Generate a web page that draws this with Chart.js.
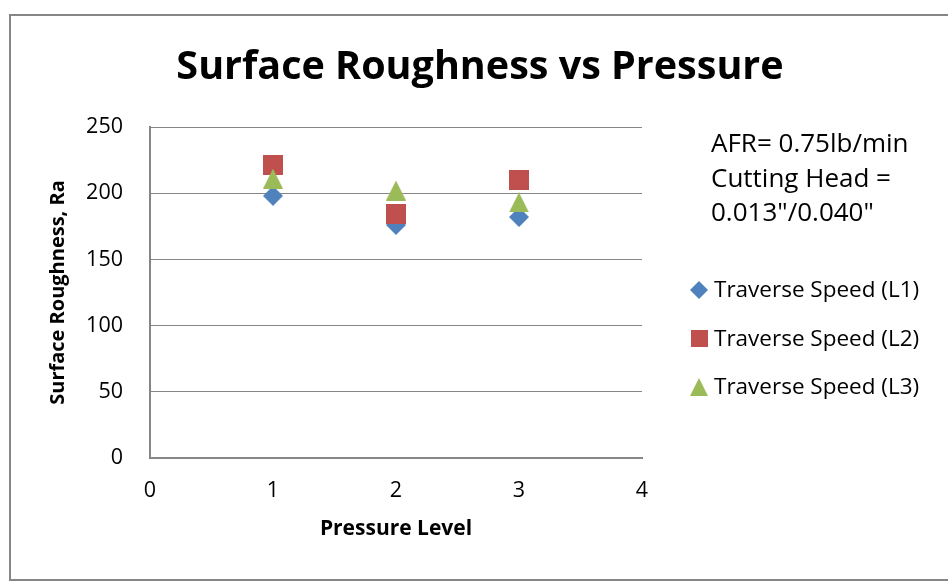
<!DOCTYPE html>
<html>
<head>
<meta charset="utf-8">
<title>Surface Roughness vs Pressure</title>
<script src="https://cdn.jsdelivr.net/npm/chart.js@4.4.1/dist/chart.umd.min.js"></script>
<style>
  html, body { margin: 0; padding: 0; background: #fff; }
  canvas { display: block; }
</style>
</head>
<body>
<canvas id="roughness" width="948" height="582"></canvas>
<script>
// pressure levels and measured Ra for each traverse speed
const pressureLevels = [1, 2, 3];
const speedL1 = [198, 176, 182];
const speedL2 = [221, 184, 210];
const speedL3 = [211, 202, 193];
const seriesNames = ['Traverse Speed (L1)', 'Traverse Speed (L2)', 'Traverse Speed (L3)'];
const noteLines = ['AFR= 0.75lb/min', 'Cutting Head =', '0.013"/0.040"'];

const FONT = '"Open Sans", sans-serif';
const GRID = '#868686';
const BLUE = '#4F81BD', RED = '#C0504D', GREEN = '#9BBB59';

// office style markers, drawn once onto small canvases
function makeMarker(shape, color, size) {
	let c = document.createElement('canvas');
	c.width = size;
	c.height = size;
	let g = c.getContext('2d');
	let h = size / 2;
	g.fillStyle = color;
	g.beginPath();
	if (shape === 'diamond') {
		g.moveTo(h, 0); g.lineTo(size, h); g.lineTo(h, size); g.lineTo(0, h);
	} else if (shape === 'square') {
		g.rect(0, 0, size, size);
	} else {
		g.moveTo(h, 0); g.lineTo(size, size); g.lineTo(0, size);
	}
	g.closePath();
	g.fill();
	return c;
}

const markers = [
	makeMarker('diamond', BLUE, 20),
	makeMarker('square', RED, 20),
	makeMarker('triangle', GREEN, 20)
];
const legendMarkers = [
	makeMarker('diamond', BLUE, 18),
	makeMarker('square', RED, 17),
	makeMarker('triangle', GREEN, 18)
];

function toPoints(vals) {
	return vals.map((v, i) => ({ x: pressureLevels[i], y: v }));
}

// frame, title, note and legend
const chartText = {
	id: 'chartText',
	beforeDraw(chart) {
		let ctx = chart.ctx;
		ctx.save();
		ctx.fillStyle = '#fff';
		ctx.fillRect(0, 0, chart.width, chart.height);
		ctx.strokeStyle = GRID;
		ctx.lineWidth = 2;
		ctx.strokeRect(10, 15, 1000, 565);
		ctx.restore();
	},
	afterDraw(chart) {
		let ctx = chart.ctx;
		ctx.save();
		ctx.fillStyle = '#000';
		ctx.textBaseline = 'middle';

		ctx.font = 'bold 39.5px ' + FONT;
		ctx.textAlign = 'center';
		ctx.fillText('Surface Roughness vs Pressure', 480, 68);

		ctx.textAlign = 'left';
		ctx.font = '26px ' + FONT;
		noteLines.forEach((t, i) => ctx.fillText(t, 711, 145 + i * 34.3));

		ctx.font = '22.5px ' + FONT;
		seriesNames.forEach((name, i) => {
			let y = 290 + i * 48.5;
			let m = legendMarkers[i];
			ctx.drawImage(m, 699 - m.width / 2, y - m.height / 2);
			ctx.fillText(name, 714, y + 1);
		});
		ctx.restore();
	}
};

new Chart(document.getElementById('roughness'), {
	type: 'scatter',
	data: {
		datasets: [
			{ label: seriesNames[0], data: toPoints(speedL1), pointStyle: markers[0], backgroundColor: BLUE, order: 3 },
			{ label: seriesNames[1], data: toPoints(speedL2), pointStyle: markers[1], backgroundColor: RED, order: 2 },
			{ label: seriesNames[2], data: toPoints(speedL3), pointStyle: markers[2], backgroundColor: GREEN, order: 1 }
		]
	},
	options: {
		responsive: false,
		animation: false,
		layout: { padding: { top: 127, right: 306, bottom: 0, left: 0 } },
		plugins: {
			legend: { display: false },
			tooltip: { enabled: false }
		},
		scales: {
			x: {
				type: 'linear',
				min: 0,
				max: 4,
				afterFit: s => { s.height = 124; },
				ticks: { stepSize: 1, padding: 20, color: '#000', font: { family: FONT, size: 21.5 } },
				grid: { display: false, drawTicks: false },
				border: { color: GRID, width: 2 },
				title: {
					display: true,
					text: 'Pressure Level',
					color: '#000',
					font: { family: FONT, size: 21, weight: 'bold' },
					padding: { top: 0, bottom: 40 }
				}
			},
			y: {
				min: 0,
				max: 250,
				afterFit: s => { s.width = 150; },
				ticks: { stepSize: 50, padding: 27, color: '#000', font: { family: FONT, size: 21.5 } },
				grid: { color: GRID, drawTicks: false },
				border: { color: GRID, width: 2 },
				title: {
					display: true,
					text: 'Surface Roughness, Ra',
					color: '#000',
					font: { family: FONT, size: 20, weight: 'bold' },
					padding: { top: 46, bottom: 0 }
				}
			}
		}
	},
	plugins: [chartText]
});
</script>
</body>
</html>
